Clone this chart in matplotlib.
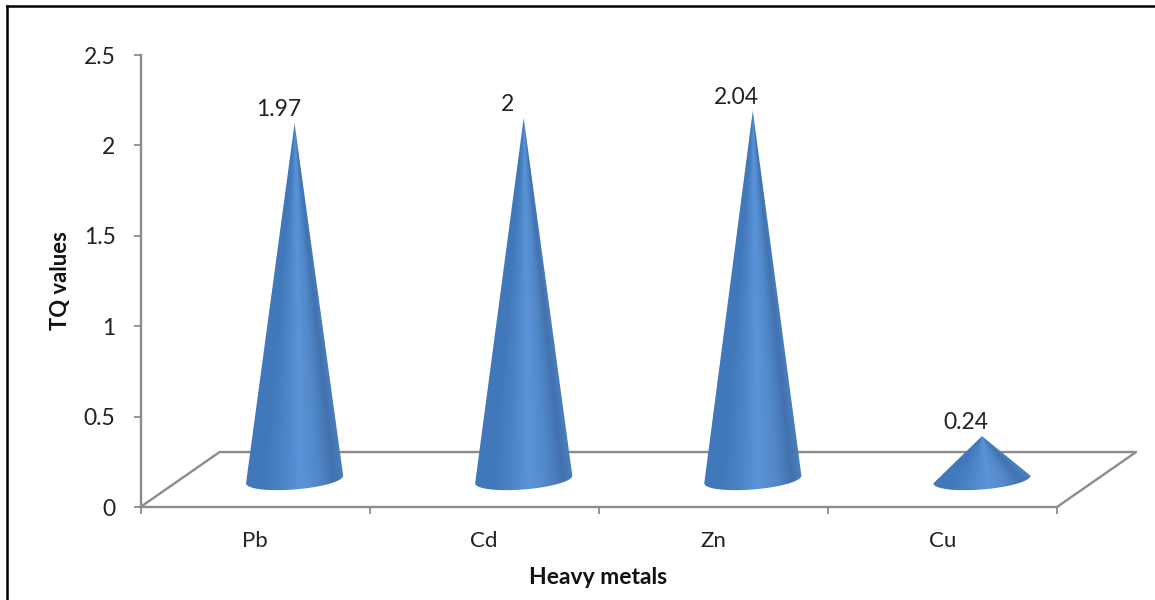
import numpy as np
import matplotlib
matplotlib.use("Agg")
import matplotlib.pyplot as plt
from matplotlib.colors import LinearSegmentedColormap
from matplotlib.lines import Line2D
from matplotlib.patches import PathPatch
from matplotlib.path import Path

metals = ["Pb", "Cd", "Zn", "Cu"]
tq_values = [1.97, 2, 2.04, 0.24]
y_ticks = [0, 0.5, 1, 1.5, 2, 2.5]
y_tick_labels = ["0", "0.5", "1", "1.5", "2", "2.5"]

W, H = 1155, 600
GREY = "#8c8c8c"
TEXT = "#222222"

plt.rcParams["font.family"] = ["Lato", "DejaVu Sans"]

# floor depth, in data units
DEPTH_X = 0.345
DEPTH_Y = 0.304
# cone base ellipse, in data units
BASE_A = 0.212
BASE_B = 0.055
BASE_TILT = 0.021

shade = LinearSegmentedColormap.from_list("cone", [
    (0.00, "#4079bb"),
    (0.18, "#4178b9"),
    (0.38, "#4c85c8"),
    (0.56, "#5b94d8"),
    (0.74, "#5188c8"),
    (0.90, "#4272ae"),
    (1.00, "#4a7ebd"),
])


def draw_cone(ax, xc, value):
    yb = DEPTH_Y / 2
    tip = yb + value

    # outline: tip, then the front half of the tilted base
    t = np.linspace(0, -np.pi, 60)
    bx = xc + BASE_A * np.cos(t)
    by = yb + BASE_B * np.sin(t) + BASE_TILT * np.cos(t)
    verts = [(xc, tip)] + list(zip(bx, by)) + [(xc, tip)]
    codes = [Path.MOVETO] + [Path.LINETO] * (len(verts) - 2) + [Path.CLOSEPOLY]
    patch = PathPatch(Path(verts, codes), fc="none", ec="none", zorder=3, clip_on=False)
    ax.add_patch(patch)

    # shading follows the cone's width row by row
    y0 = yb - BASE_B - 0.03
    xs = np.linspace(xc - BASE_A, xc + BASE_A, 200)
    ys = np.linspace(y0, tip, 500)
    gx, gy = np.meshgrid(xs, ys)
    half = BASE_A * np.clip((tip - gy) / (tip - yb), 0.002, 1)
    u = np.clip((gx - xc) / half, -1, 1)
    im = ax.imshow(shade((u + 1) / 2), origin="lower", aspect="auto", zorder=3,
                   extent=[xs[0], xs[-1], ys[0], ys[-1]], interpolation="bilinear")
    im.set_clip_path(patch)
    return tip


fig = plt.figure(figsize=(W / 100, H / 100), dpi=100, facecolor="white")
ax = fig.add_axes([140.5 / W, 1 - 507 / H, (1057 - 140.5) / W, (507 - 55) / H])

# floor of the 3D plot
floor_x = [0, DEPTH_X, 4 + DEPTH_X, 4]
floor_y = [0, DEPTH_Y, DEPTH_Y, 0]
ax.plot(floor_x, floor_y, color=GREY, lw=1.7, clip_on=False, zorder=1)

for i, val in enumerate(tq_values):
    xc = i + 0.5 + DEPTH_X / 2
    tip = draw_cone(ax, xc, val)
    ax.text(xc - 0.07, tip + 0.075, str(val), ha="center", va="center",
            fontsize=16.5, color=TEXT, zorder=4)

ax.set_xlim(0, 4)
ax.set_ylim(0, 2.5)
ax.patch.set_visible(False)

for side in ["top", "right"]:
    ax.spines[side].set_visible(False)
for side in ["left", "bottom"]:
    ax.spines[side].set_color(GREY)
    ax.spines[side].set_linewidth(1.7)

ax.set_yticks(y_ticks, y_tick_labels)
ax.set_xticks(range(5), [""] * 5)
ax.set_xticks([i + 0.5 for i in range(4)], metals, minor=True)
ax.tick_params(axis="both", which="major", color=GREY, width=1.3, length=5)
ax.tick_params(axis="x", which="minor", length=0, pad=17.5, labelsize=16, labelcolor=TEXT)
ax.tick_params(axis="y", which="major", pad=13, labelsize=16.5, labelcolor=TEXT)

fig.text(61 / W, 1 - 281 / H, "TQ values", rotation=90, ha="center", va="center",
         fontsize=15.8, fontweight="bold", color="#111111")
fig.text(598 / W, 1 - 577 / H, "Heavy metals", ha="center", va="center",
         fontsize=16.5, fontweight="bold", color="#111111")

# frame around the chart area, open at right and bottom
fig.add_artist(Line2D([7 / W, 7 / W], [0, 1 - 6 / H], color="black", lw=1.8))
fig.add_artist(Line2D([7 / W, 1], [1 - 6 / H, 1 - 6 / H], color="black", lw=1.8))

fig.savefig("out.png", dpi=100)
